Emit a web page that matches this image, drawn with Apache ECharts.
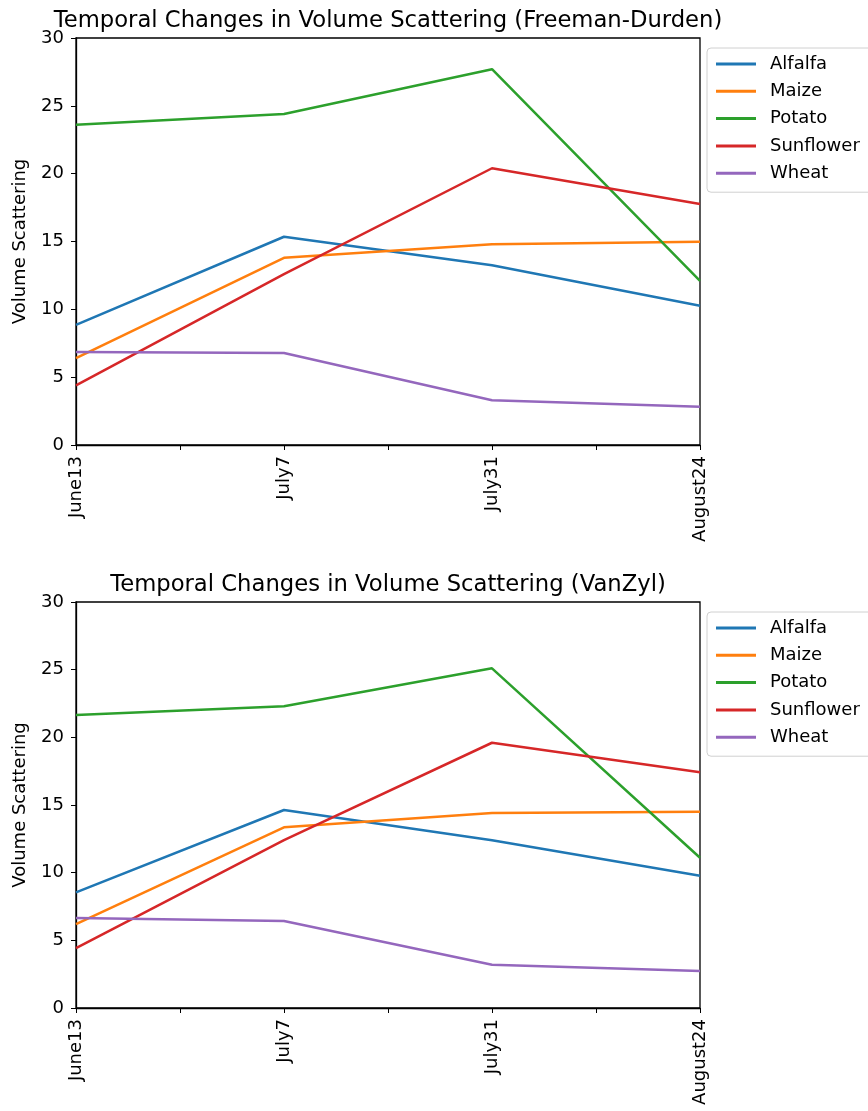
<!DOCTYPE html>
<html>
<head>
<meta charset="utf-8">
<script src="https://cdn.jsdelivr.net/npm/echarts@6/dist/echarts.min.js"></script>
<style>
html,body{margin:0;padding:0;background:#fff;}
#c{width:868px;height:1111px;}
</style>
</head>
<body>
<div id="c"></div>
<script>
const categories = ["June13", "July7", "July31", "August24"];
const crops = ["Alfalfa", "Maize", "Potato", "Sunflower", "Wheat"];
const colors = ["#1f77b4", "#ff7f0e", "#2ca02c", "#d62728", "#9467bd"];
const yTicks = [0, 5, 10, 15, 20, 25, 30];

// Freeman-Durden
const fdAlfalfa   = [8.85, 15.35, 13.25, 10.27];
const fdMaize     = [6.4, 13.8, 14.8, 14.98];
const fdPotato    = [23.6, 24.4, 27.7, 12.1];
const fdSunflower = [4.4, 12.6, 20.4, 17.76];
const fdWheat     = [6.85, 6.78, 3.3, 2.82];

// VanZyl
const vzAlfalfa   = [8.55, 14.63, 12.4, 9.78];
const vzMaize     = [6.2, 13.35, 14.4, 14.51];
const vzPotato    = [21.65, 22.3, 25.1, 11.1];
const vzSunflower = [4.43, 12.4, 19.6, 17.42];
const vzWheat     = [6.65, 6.43, 3.2, 2.73];

const titles = ["Temporal Changes in Volume Scattering (Freeman-Durden)", "Temporal Changes in Volume Scattering (VanZyl)"];
const yLabel = "Volume Scattering";

const sets = [
  [fdAlfalfa, fdMaize, fdPotato, fdSunflower, fdWheat],
  [vzAlfalfa, vzMaize, vzPotato, vzSunflower, vzWheat]
];

const font = "DejaVu Sans";
const grids = [
  {left: 76, top: 38, width: 624, height: 407},
  {left: 76, top: 602, width: 624, height: 406}
];

const option = {
  animation: false,
  backgroundColor: "#fff",
  textStyle: {fontFamily: font},
  title: grids.map((g, i) => ({
    text: titles[i],
    left: g.left + g.width / 2 - 5,
    textAlign: "center",
    top: g.top - 33,
    textStyle: {fontFamily: font, fontSize: 22.7, fontWeight: "normal", color: "#000"}
  })),
  legend: grids.map((g, i) => ({
    show: true,
    orient: "vertical",
    left: 707,
    top: g.top + 10,
    data: crops.map(c => c + (i ? " " : "")),
    formatter: n => n.trim(),
    itemWidth: 40,
    itemHeight: 3,
    itemGap: 9.3,
    padding: [7, 14, 10, 9],
    borderColor: "#d0d0d0",
    borderWidth: 1,
    borderRadius: 4,
    backgroundColor: "#fff",
    textStyle: {fontFamily: font, fontSize: 18, color: "#000", padding: [0, 0, 0, 9]},
    icon: "rect"
  })),
  grid: grids.map(g => Object.assign({show: true, borderColor: "#000", borderWidth: 1.3, backgroundColor: "transparent"}, g)),
  xAxis: grids.map((g, i) => ({
    type: "value",
    gridIndex: i,
    min: 0,
    max: categories.length - 1,
    interval: 0.5,
    axisLine: {show: true, lineStyle: {color: "#000", width: 1.3}},
    axisTick: {show: true, length: 5, lineStyle: {color: "#000"}},
    splitLine: {show: false},
    axisLabel: {
      rotate: 90,
      fontFamily: font,
      fontSize: 18,
      color: "#000",
      margin: 11,
      showMaxLabel: true,
      showMinLabel: true,
      formatter: v => Number.isInteger(v) ? categories[v] : ""
    }
  })),
  yAxis: grids.map((g, i) => ({
    type: "value",
    gridIndex: i,
    min: yTicks[0],
    max: yTicks[yTicks.length - 1],
    interval: yTicks[1] - yTicks[0],
    name: yLabel,
    nameLocation: "middle",
    nameGap: 47,
    nameTextStyle: {fontFamily: font, fontSize: 18, color: "#000"},
    axisLine: {show: true, lineStyle: {color: "#000", width: 1.3}},
    axisTick: {show: true, length: 5, lineStyle: {color: "#000"}},
    splitLine: {show: false},
    axisLabel: {fontFamily: font, fontSize: 18, color: "#000", margin: 12}
  })),
  series: []
};

sets.forEach((set, gi) => {
  set.forEach((vals, si) => {
    option.series.push({
      type: "line",
      name: crops[si] + (gi ? " " : ""),
      xAxisIndex: gi,
      yAxisIndex: gi,
      data: vals.map((v, k) => [k, v]),
      symbol: "none",
      lineStyle: {color: colors[si], width: 2.5},
      itemStyle: {color: colors[si]}
    });
  });
});

const chart = echarts.init(document.getElementById("c"), null, {renderer: "canvas"});
chart.setOption(option);
</script>
</body>
</html>
